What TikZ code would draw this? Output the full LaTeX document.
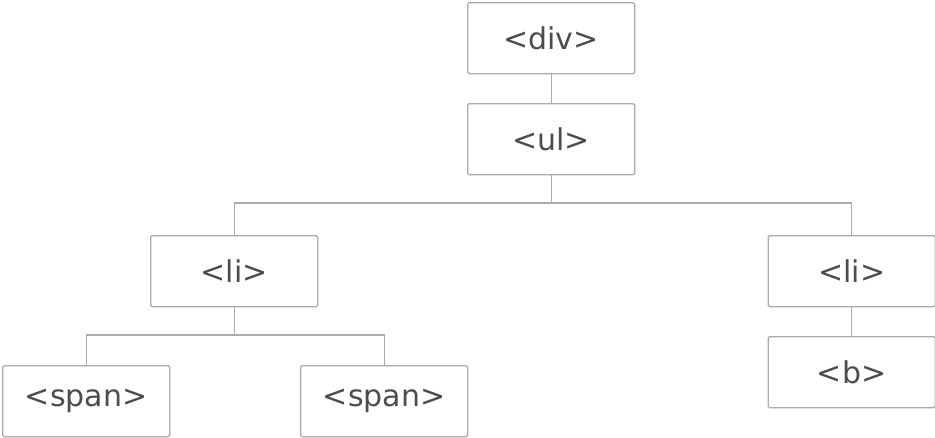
\documentclass[tikz,border=0pt]{standalone}
\usepackage{fontspec}
\setmainfont{DejaVu Sans}
\begin{document}
\begin{tikzpicture}[x=1pt,y=-1pt,
  tag/.style={draw=black!33,line width=1.3pt,rounded corners=1.5pt,minimum width=167pt,minimum height=71pt,inner sep=0pt,text=black!70,font=\fontsize{30}{33}\selectfont,anchor=north west},
  link/.style={draw=black!33,line width=1.3pt}]
\useasboundingbox (0,0) rectangle (935,437);
\node[tag] (div) at (467,2) {<div>};
\node[tag] (ul) at (467,103) {<ul>};
\node[tag] (li1) at (150,235) {<li>};
\node[tag] (li2) at (767.5,235) {<li>};
\node[tag] (s1) at (2,365) {<span>};
\node[tag] (s2) at (300,365) {<span>};
\node[tag] (b) at (767.5,336) {<b>};
\coordinate (j1) at (ul.south|-0,203);
\coordinate (j2) at (li1.south|-0,335);
\draw[link] (div) -- (ul);
\draw[link] (ul) -- (j1);
\draw[link] (li1.north) |- (j1) -| (li2.north);
\draw[link] (li1) -- (j2);
\draw[link] (s1.north) |- (j2) -| (s2.north);
\draw[link] (li2) -- (b);
\end{tikzpicture}
\end{document}
